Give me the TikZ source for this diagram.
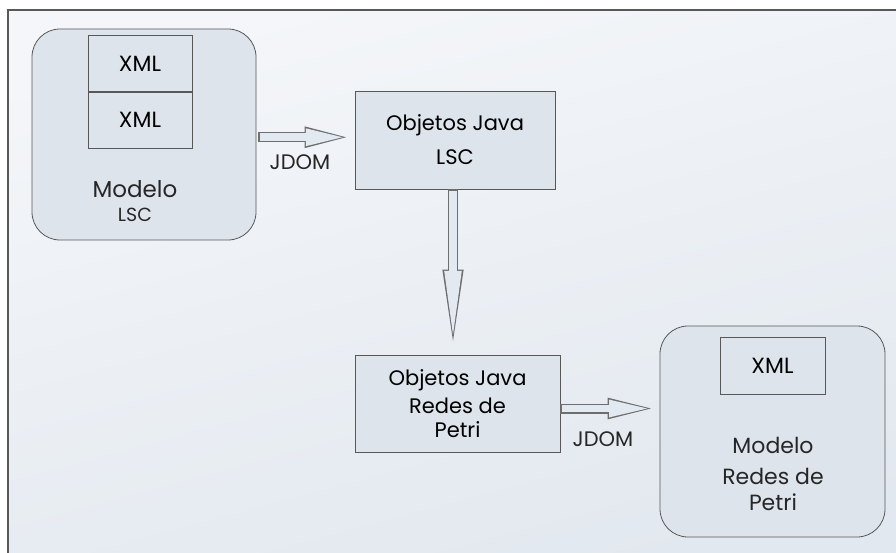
\documentclass[tikz,border=0pt]{standalone}
\usepackage{fontspec}
\setmainfont{Poppins}
\usetikzlibrary{arrows.meta,positioning,calc}
\definecolor{bgtop}{RGB}{244,246,249}
\definecolor{bgbot}{RGB}{226,232,239}
\definecolor{boxfill}{RGB}{221,228,236}
\definecolor{boxline}{RGB}{88,88,88}
\definecolor{arrline}{RGB}{110,110,110}
\definecolor{arrfill}{RGB}{226,233,241}
\tikzset{
  modelbox/.style={draw=boxline,thick,fill=boxfill,rounded corners=28pt,minimum width=224pt,minimum height=211pt},
  objbox/.style={draw=boxline,thick,fill=boxfill,align=center,minimum height=98pt},
  xmlbox/.style={draw=boxline,thick,minimum width=104pt,minimum height=56pt,font=\fontsize{22}{26}\selectfont},
  lbl/.style={align=center,text=black!85},
  blockarrow/.style n args={3}{draw=arrline,line width=10pt,-{Triangle[length=#1,width=18pt]},
    postaction={draw=arrfill,line width=7.6pt,-{Triangle[length=#2,width=15.2pt]},shorten >=#3,shorten <=1.2pt}}
}
\begin{document}
\begin{tikzpicture}[x=1pt,y=-1pt,font=\fontsize{21}{26}\selectfont]
\useasboundingbox (0,0) rectangle (896,553);
\fill[white] (0,0) rectangle (896,553);
\shade[top color=bgtop,bottom color=bgbot,shading angle=15] (8,10) rectangle (910,570);
\draw[boxline,line width=1.5pt] (8,570) -- (8,10) -- (910,10);

% modelo LSC
\node[modelbox] (lscmod) at (144,134.5) {};
\node[xmlbox] (xmla) at (140,63.5) {XML};
\node[xmlbox,below=0pt of xmla] (xmlb) {XML};
\node[lbl,font=\fontsize{23}{26}\selectfont] (lsctxt) at (135,201) {Modelo\\[-2pt]\fontsize{19}{22}\selectfont LSC};

% objetos java
\node[objbox,minimum width=200pt] (objlsc) at (455,140) {Objetos Java\\[8pt]LSC};
\node[objbox,minimum width=205pt,minimum height=97pt,font=\fontsize{21}{28}\selectfont] (objpn) at (457.5,403.5) {Objetos Java\\Redes de\\[-4pt]Petri};

% modelo redes de petri
\node[modelbox,minimum width=225pt] (pnmod) at (772.5,431.5) {};
\node[xmlbox,minimum width=105pt,minimum height=57pt] (xmlc) at (772.5,365.5) {XML};
\node[lbl,font=\fontsize{22}{31}\selectfont] (pntxt) at (773,474) {Modelo\\Redes de\\[-5pt]Petri};

% conectores
\coordinate (j1) at ($(lscmod.east)!.5!(objlsc.west)$);
\draw[blockarrow={50pt}{42pt}{6.8pt}] ([xshift=2pt]lscmod.east |- j1) -- (objlsc.west |- j1);
\node[lbl] (jdoma) at (300,162) {JDOM};
\draw[blockarrow={85pt}{72.4pt}{11.4pt}] ([xshift=-2pt]objlsc.south) -- ([xshift=-2pt]objlsc.south |- objpn.north);
\draw[blockarrow={52pt}{43.6pt}{7pt}] ([yshift=-5pt]objpn.east) -- ([yshift=-5pt]objpn.east -| pnmod.west);
\node[lbl] (jdomb) at (603,439) {JDOM};
\end{tikzpicture}
\end{document}
